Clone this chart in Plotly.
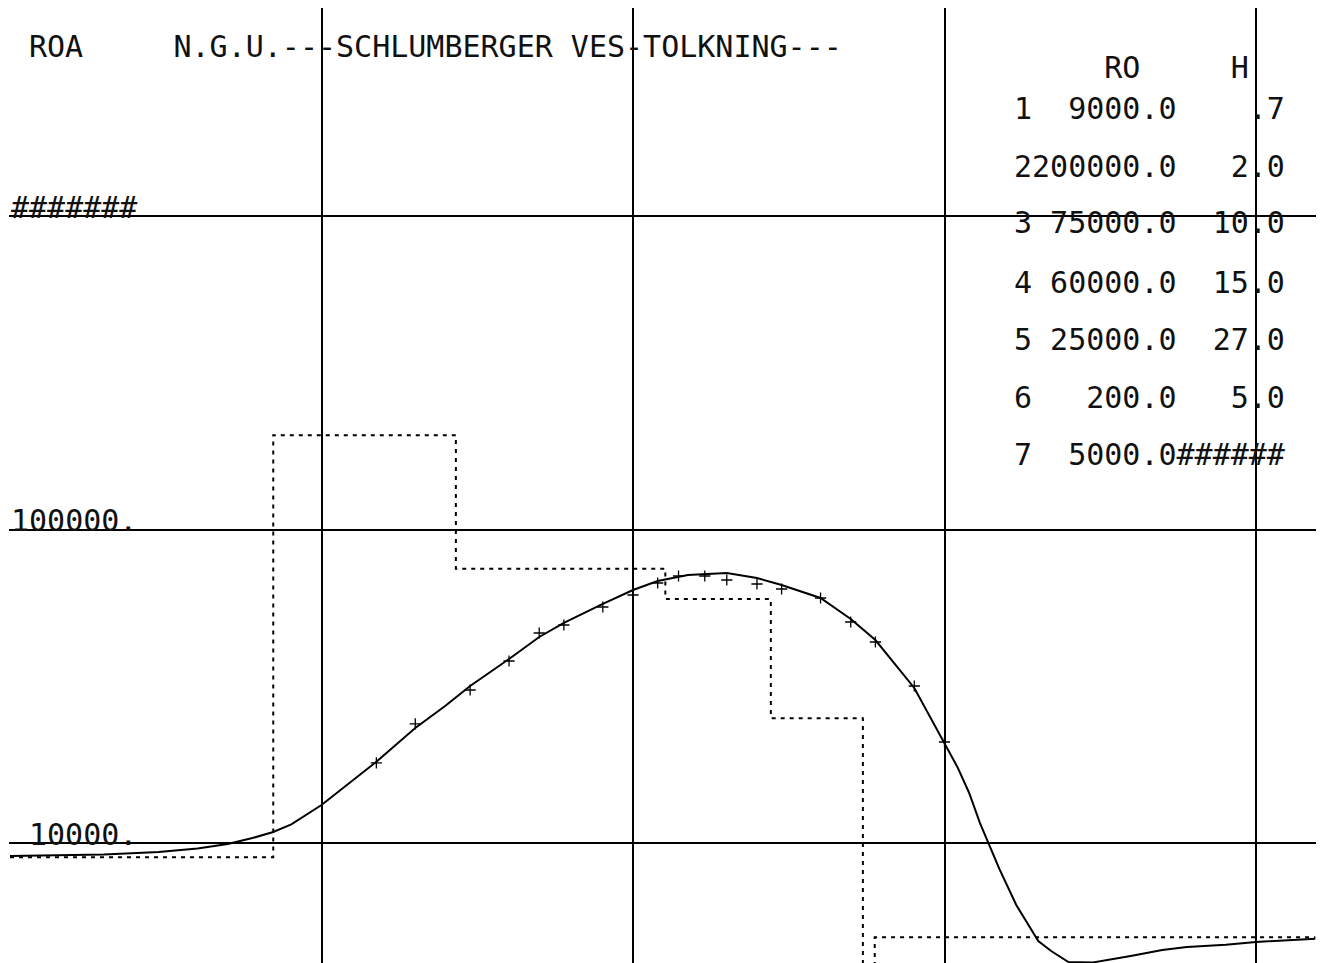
import math
import plotly.graph_objects as go
from itertools import accumulate

# ---------------- data ----------------
# layer model (RO = resistivity, H = thickness)
layer_no = [1, 2, 3, 4, 5, 6, 7]
layer_ro = [9000.0, 200000.0, 75000.0, 60000.0, 25000.0, 200.0, 5000.0]
layer_h = [0.7, 2.0, 10.0, 15.0, 27.0, 5.0]

# measured apparent resistivity (AB/2, ROA)
meas_ab2 = [1.5, 2, 3, 4, 5, 6, 8, 10, 12, 14, 17, 20, 25, 30, 40, 50, 60, 80, 100]
meas_roa = [18000, 23970, 30760, 38070, 46760, 49590, 56590, 61820, 67500, 71080,
            71080, 69010, 67020, 64590, 60460, 50700, 43770, 31680, 21000]

# computed model curve (AB/2, ROA)
curve_ab2 = [0.1, 0.15, 0.2, 0.3, 0.4, 0.5, 0.6, 0.7, 0.8, 1.0, 1.2, 1.5, 2, 2.5, 3, 4,
             5, 6, 8, 10, 12, 15, 20, 25, 30, 40, 50, 60, 80, 100, 110, 120, 130, 150,
             170, 200, 220, 250, 300, 400, 500, 600, 800, 1000, 1500, 1550]
curve_roa = [9090, 9157, 9190, 9360, 9605, 9927, 10370, 10840, 11460, 13220, 15200,
             18150, 23270, 27400, 31680, 38640, 45410, 50340, 57870, 64120, 68500,
             71590, 72640, 70000, 66530, 60460, 51830, 44410, 31220, 20840, 17480,
             14440, 11580, 8264, 6342, 4868, 4524, 4173, 4160, 4370, 4557, 4659, 4740,
             4833, 4941, 4950]

x_grid = [0.1, 1, 10, 100, 1000]
y_grid = [1e4, 1e5, 1e6]
y_labels = ["10000.", "100000.", "#######"]

title_left = "ROA"
title_main = "N.G.U.---SCHLUMBERGER VES-TOLKNING---"
table_header = ["RO", "H"]

# ---------------- layout geometry ----------------
W, H = 1326, 963
ML, MR, MT, MB = 9, 10, 8, 0
PW, PH = W - ML - MR, H - MT - MB
X_RANGE = [-1.00321, 3.19262]
Y_RANGE = [3.61722, 6.66348]
FONT = "DejaVu Sans Mono"
FS = 30
NB = "\u00a0"


def px(x):
    return (x - ML) / PW


def py(y):
    return 1 - (y - MT) / PH


# step line of the layer model
depths = list(accumulate(layer_h))
step_x = [curve_ab2[0]] + depths + [curve_ab2[-1]]
step_y = layer_ro + [layer_ro[-1]]

fig = go.Figure()

fig.add_trace(go.Scatter(
    x=step_x, y=step_y, mode="lines", line_shape="hv",
    line=dict(color="black", width=2, dash="4px,5px"),
    hoverinfo="skip", showlegend=False))

fig.add_trace(go.Scatter(
    x=curve_ab2, y=curve_roa, mode="lines",
    line=dict(color="black", width=2),
    showlegend=False))

fig.add_trace(go.Scatter(
    x=meas_ab2, y=meas_roa, mode="markers",
    marker=dict(symbol="cross-thin", size=8, color="black",
                line=dict(color="black", width=1.3)),
    showlegend=False))

annotations = []


def add_text(text, x, y, xanchor="left", yanchor="middle"):
    annotations.append(dict(
        text=text.replace(" ", NB), x=px(x), y=py(y), xref="paper", yref="paper",
        xanchor=xanchor, yanchor=yanchor, showarrow=False,
        font=dict(family=FONT, size=FS, color="#111")))


# title line
add_text(title_left + " " * 5 + title_main, 27, 47)

# y labels (right aligned, sitting on grid line)
for val, lab in zip(y_grid, y_labels):
    ypix = 216 + 313.5 * (6 - math.log10(val))
    add_text(lab, 139, ypix - 9, xanchor="right")

# table
col0 = 1012
rows_y = [68, 109, 166, 223, 282, 340, 397, 454]
header = " " * 5 + table_header[0] + " " * 5 + table_header[1] + "  "
add_text(header, col0, rows_y[0])
for i, (n, ro) in enumerate(zip(layer_no, layer_ro)):
    ro_s = f"{ro:.1f}"
    left = f"{n}" + ro_s.rjust(8)
    if i < len(layer_h):
        h_s = f"{layer_h[i]:.1f}"
        if h_s.startswith("0"):
            h_s = h_s[1:]
        right = h_s.rjust(6)
    else:
        right = "######"
    add_text(left + right, col0, rows_y[i + 1])

fig.update_layout(
    width=W, height=H,
    margin=dict(l=ML, r=MR, t=MT, b=MB, pad=0),
    paper_bgcolor="white", plot_bgcolor="white",
    annotations=annotations,
    xaxis=dict(type="log", range=X_RANGE, tickvals=x_grid, showticklabels=False,
               showgrid=True, gridcolor="black", gridwidth=1.5, zeroline=False,
               showline=False, ticks=""),
    yaxis=dict(type="log", range=Y_RANGE, tickvals=y_grid, showticklabels=False,
               showgrid=True, gridcolor="black", gridwidth=1.5, zeroline=False,
               showline=False, ticks=""),
)

fig.write_html("out.html")
